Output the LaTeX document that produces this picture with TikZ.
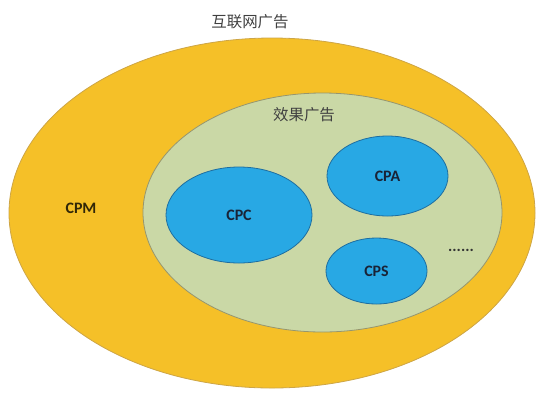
\documentclass[tikz,border=0pt]{standalone}
\usepackage{fontspec}
\setmainfont{Carlito}
\newfontfamily\cjk{Noto Sans CJK SC}
\definecolor{adgold}{RGB}{245,192,40}
\definecolor{adgoldline}{RGB}{205,165,70}
\definecolor{adgreen}{RGB}{202,216,166}
\definecolor{adgreenline}{RGB}{150,150,110}
\definecolor{adblue}{RGB}{40,168,228}
\definecolor{adblueline}{RGB}{30,110,160}
\definecolor{adtext}{RGB}{25,35,55}
\tikzset{
  cjklabel/.style={font=\cjk\fontsize{15.5}{18}\selectfont, text=black!75},
  adlabel/.style={font=\fontsize{16}{18}\selectfont\bfseries, text=adtext}
}
\begin{document}
\begin{tikzpicture}[x=1bp,y=1bp]
\tikzstyle{every node}+=[inner sep=0pt]
\useasboundingbox (0,0) rectangle (552,-401);

\draw [adgoldline, fill=adgold, line width=0.8bp] (272,-213) ellipse (263 and 175);
\node [cjklabel] (net) at (250,-22) {互联网广告};
\node [adlabel, text=black!80!adgold] (cpm) at (81,-208) {CPM};

\draw [adgreenline, fill=adgreen, line width=0.8bp] (322.5,-212.5) ellipse (179.5 and 119.5);
\node [cjklabel] (effect) at (304,-115) {效果广告};

\draw [adblueline, fill=adblue, line width=0.8bp] (239,-215) ellipse (73 and 48);
\node [adlabel] (cpc) at (239,-215) {CPC};

\draw [adblueline, fill=adblue, line width=0.8bp] (387.5,-176) ellipse (60.5 and 40);
\node [adlabel] (cpa) at (387.5,-176) {CPA};

\draw [adblueline, fill=adblue, line width=0.8bp] (376.5,-271) ellipse (50.5 and 33);
\node [adlabel] (cps) at (376.5,-271) {CPS};

\node [adlabel, font=\fontsize{16}{18}\selectfont\bfseries, text=black!80] (more) at (461,-250) {......};
\end{tikzpicture}
\end{document}
